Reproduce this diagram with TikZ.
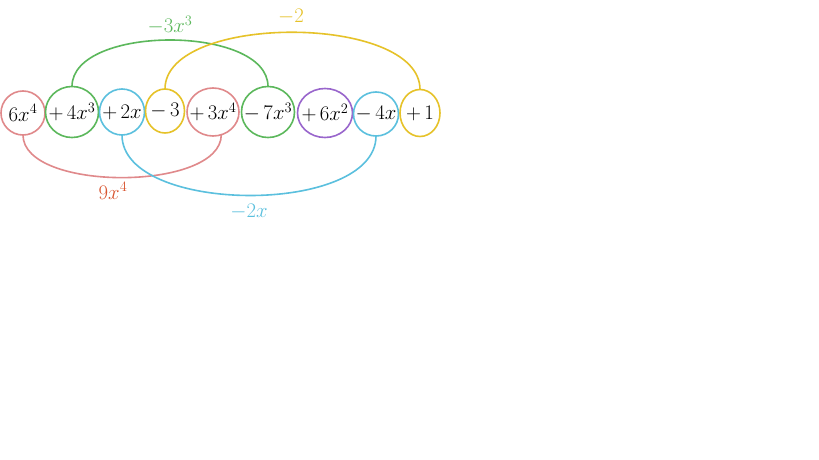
\documentclass[tikz,border=0pt]{standalone}
\usetikzlibrary{shapes.geometric}
\definecolor{cred}{HTML}{E0898B}
\definecolor{credlab}{HTML}{D9542F}
\definecolor{cgreen}{HTML}{5CB85C}
\definecolor{cblue}{HTML}{5BC0DE}
\definecolor{cyellow}{HTML}{E6C229}
\definecolor{cpurple}{HTML}{9966CC}
\begin{document}
\begin{tikzpicture}[x=1pt,y=-1pt,
  term/.style={ellipse, draw, line width=1.6pt, inner sep=0pt, outer sep=0pt,
    font=\fontsize{21}{25}\selectfont},
  link/.style={line width=1.6pt},
  lab/.style={inner sep=0pt, font=\fontsize{20}{24}\selectfont}]
\useasboundingbox[fill=white] (0,0) rectangle (819,460);
\node[term, draw=cred,    minimum width=44pt, minimum height=44pt] (e1) at (23,113)  {\makebox[0pt]{$6x^4$}};
\node[term, draw=cgreen,  minimum width=53pt, minimum height=51pt] (e2) at (72,112)  {\makebox[0pt]{${+}\,4x^3$}};
\node[term, draw=cblue,   minimum width=45pt, minimum height=46pt] (e3) at (122,112) {\makebox[0pt]{${+}\,2x$}};
\node[term, draw=cyellow, minimum width=39pt, minimum height=44pt] (e4) at (165,111) {\makebox[0pt]{${-}\,3$}};
\node[term, draw=cred,    minimum width=52pt, minimum height=48pt] (e5) at (213,112) {\makebox[0pt]{${+}\,3x^4$}};
\node[term, draw=cgreen,  minimum width=53pt, minimum height=51pt] (e6) at (268,112) {\makebox[0pt]{${-}\,7x^3$}};
\node[term, draw=cpurple, minimum width=55pt, minimum height=49pt] (e7) at (325,113) {\makebox[0pt]{${+}\,6x^2$}};
\node[term, draw=cblue,   minimum width=45pt, minimum height=44pt] (e8) at (376,114) {\makebox[0pt]{${-}\,4x$}};
\node[term, draw=cyellow, minimum width=40pt, minimum height=47pt] (e9) at (420,113) {\makebox[0pt]{${+}\,1$}};
% connectors
\draw[link, cgreen] (e2.north) .. controls +(0,-62) and +(0,-62) .. (e6.north);
\draw[link, cyellow] (e4.north) .. controls +(0,-76) and +(0,-76) .. (e9.north);
\draw[link, cred] (e1.south) .. controls +(0,57) and +(0,57) .. (e5.-70);
\draw[link, cblue] (e3.south) .. controls +(0,80) and +(0,80) .. (e8.south);
% labels
\node[lab, text=cgreen] (l1) at (170,25) {$-3x^3$};
\node[lab, text=cyellow] (l2) at (291,17) {$-2$};
\node[lab, text=credlab] (l3) at (113,191) {$9x^4$};
\node[lab, text=cblue] (l4) at (249,212) {$-2x$};
\end{tikzpicture}
\end{document}
